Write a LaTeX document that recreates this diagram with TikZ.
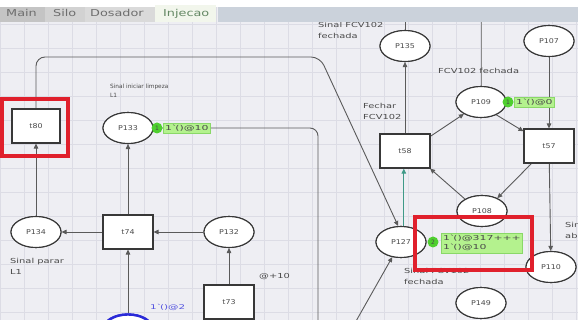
\documentclass[tikz,border=0pt]{standalone}
\usepackage{fontspec}
\setmainfont{DejaVu Sans}
\newfontfamily\tabfont[FakeStretch=1.35]{DejaVu Sans}
\newfontfamily\tokfont[FakeStretch=1.6]{DejaVu Sans}
\newfontfamily\nodefont[FakeStretch=1.2]{DejaVu Sans}
\newfontfamily\notefont[FakeStretch=1.43]{DejaVu Sans}
\usetikzlibrary{arrows.meta,shapes.geometric}
\definecolor{canvas}{HTML}{EEEEF3}
\definecolor{gridc}{HTML}{DCDCE5}
\definecolor{edgec}{HTML}{383838}
\definecolor{arcc}{HTML}{5A5A5A}
\definecolor{txt}{HTML}{4A4A4A}
\definecolor{tokg}{HTML}{4FCF2F}
\definecolor{tokbg}{HTML}{B4F28E}
\definecolor{tokbd}{HTML}{8AD868}
\definecolor{alert}{HTML}{E0202C}
\definecolor{selblue}{HTML}{2A2AD8}
\definecolor{barc}{HTML}{CBD2DB}
\definecolor{tabA}{HTML}{C4C4C4}
\definecolor{tabB}{HTML}{D2D2D2}
\definecolor{tabC}{HTML}{DADADA}
\definecolor{acttab}{HTML}{F2F6EC}
\definecolor{tabtxt}{HTML}{6E6E6E}
\definecolor{firing}{HTML}{3F9A88}
\tikzset{
  place/.style={ellipse, draw=edgec, line width=1.1pt, fill=white,
    minimum width=50pt, minimum height=31pt, inner sep=0pt,
    font=\nodefont\fontsize{6.6}{7}\selectfont, text=txt},
  trans/.style={rectangle, draw=edgec, line width=1.1pt, fill=white,
    minimum width=50pt, minimum height=34pt, inner sep=0pt,
    font=\nodefont\fontsize{6.6}{7}\selectfont, text=txt},
  arc/.style={draw=arcc, line width=0.9pt, -{Triangle[length=5pt,width=4.5pt]}},
  plainarc/.style={draw=arcc, line width=0.9pt},
  note/.style={font=\notefont\fontsize{6.9}{11.5}\selectfont, text=txt, align=left,
    inner sep=0pt, anchor=north west},
  tok/.style={circle, fill=tokg, minimum size=11pt, inner sep=0pt,
    font=\fontsize{6}{6}\selectfont, text=txt},
  tokbox/.style={fill=tokbg, draw=tokbd, line width=0.5pt, inner sep=1.8pt,
    anchor=west, font=\tokfont\fontsize{6.8}{9.5}\selectfont, text=txt, align=left},
  redbox/.style={draw=alert, line width=3.5pt},
  tablabel/.style={font=\tabfont\fontsize{9.5}{11}\selectfont, text=tabtxt,
    anchor=base west, inner sep=0pt}
}
\begin{document}
\begin{tikzpicture}[x=1pt,y=-1pt]
\useasboundingbox (0,0) rectangle (578,320);
\clip (0,0) rectangle (578,320);
% canvas and grid
\fill[canvas] (0,0) rectangle (578,320);
\draw[gridc, line width=0.4pt, step=24pt] (0,0) grid (578,320);

% places
\node[place] (P133) at (128,128) {P133};
\node[place] (P134) at (36,232) {P134};
\node[place] (P132) at (229,232) {P132};
\node[place, draw=selblue, line width=2.4pt] (P0) at (128,330) {};
\node[place] (P135) at (405,46) {P135};
\node[place] (Ptop) at (481,5) {};
\node[place] (P107) at (549,41) {P107};
\node[place] (P109) at (481,102) {P109};
\node[place] (P108) at (482,211) {P108};
\node[place] (P127) at (401,242) {P127};
\node[place] (P110) at (551,267) {P110};
\node[place] (P149) at (481,303) {P149};

% transitions
\node[trans, minimum width=48pt] (t80) at (36,126) {t80};
\node[trans] (t74) at (128,232) {t74};
\node[trans] (t73) at (229,302) {t73};
\node[trans] (t58) at (405,151) {t58};
\node[trans] (t57) at (549,146) {t57};

% free ends of arcs leading off the page
\coordinate (offA) at (318,330);
\coordinate (offB) at (351,330);
\coordinate (offC) at (405,10);

% arcs
\draw[arc] (P134) -- (t80);
\draw[arc] (t74) -- (P134);
\draw[arc] (t74) -- (P133);
\draw[arc] (P132) -- (t74);
\draw[arc] (t73) -- (P132);
\draw[arc] (P0) -- (t74);
\draw[arc, rounded corners=9pt] (t80.north) |- (320,57) -- (P127.100);
\draw[plainarc, rounded corners=8pt] (P133.east) -| (offA);
\draw[arc] (t58) -- (P135);
\draw[plainarc] (P135.north) -- (offC);
\draw[plainarc, draw=arcc!70] (P109.north) -- (Ptop.south);
\draw[arc] (t58.30) -- (P109.215);
\draw[arc] (P109.-40) -- (t57.150);
\draw[arc] (P107) -- (t57);
\draw[arc] (t57.225) -- (P108.40);
\draw[arc] (P108.145) -- (t58.-35);
\draw[arc, draw=firing] (P127.80) -- (P127.80 |- t58.south);
\draw[arc] (offB) -- (P127.240);
\draw[arc] (t57) -- (P110);

% redraw nodes on top of the arcs
\foreach \n/\t in {P133/P133,P134/P134,P132/P132,P135/P135,P107/P107,
  P109/P109,P108/P108,P127/P127,P110/P110,P149/P149}
  \node[place] at (\n) {\t};
\node[place, draw=selblue, line width=2.4pt] at (P0) {};
\node[place] at (Ptop) {};
\node[trans, minimum width=48pt] at (t80) {t80};
\foreach \n in {t74,t73,t58,t57}
  \node[trans] at (\n) {\n};

% token markings
\node[tok] (k133) at (157,128) {1};
\node[tokbox] (m133) at (163,128) {1\textasciigrave()@10};
\node[tok] (k109) at (508,102) {1};
\node[tokbox] (m109) at (514,102) {1\textasciigrave()@0};
\node[tok] (k127) at (433,242) {2};
\node[tokbox] (m127) at (441,243) {1\textasciigrave()@317+++\\1\textasciigrave()@10};
\node[note, font=\tokfont\fontsize{6.5}{7}\selectfont, text=selblue!80, anchor=west] (m0) at (150,307) {1\textasciigrave()@2};

% inscriptions
\node[note, font=\fontsize{5.8}{9}\selectfont] (n1) at (110,84) {Sinal iniciar limpeza\\L1};
\node[note] (n2) at (10,258) {Sinal parar\\L1};
\node[note, anchor=west] (n3) at (259,277) {@+10};
\node[note] (n4) at (318,22) {Sinal FCV102\\fechada};
\node[note] (n5) at (363,103) {Fechar\\FCV102};
\node[note] (n6) at (438,68) {FCV102 fechada};
\node[note] (n7) at (404,268) {Sinal FCV102\\fechada};
\node[note] (n8) at (565,222) {Sinal FCV102\\aberta};

% highlight frames
\draw[redbox] (2,99) rectangle (68,156);
\draw[redbox] (415,217) rectangle (532,270);

% page tabs
\fill[white] (0,0) rectangle (578,7);
\fill[tabA] (0,7) rectangle (45,22);
\fill[tabB] (45,7) rectangle (85,22);
\fill[tabC] (85,7) rectangle (155,22);
\fill[acttab] (155,5) rectangle (216,22);
\fill[barc] (218,7) rectangle (578,22);
\node[tablabel] (tab1) at (6,17) {Main};
\node[tablabel] (tab2) at (53,17) {Silo};
\node[tablabel] (tab3) at (90,17) {Dosador};
\node[tablabel, text=tabtxt!80!green!70!gray] (tab4) at (163,17) {Injecao};
\end{tikzpicture}
\end{document}
